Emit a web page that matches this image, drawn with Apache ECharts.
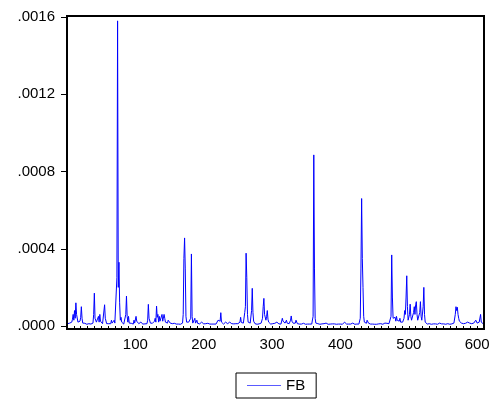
<!DOCTYPE html>
<html>
<head>
<meta charset="utf-8">
<script src="https://cdn.jsdelivr.net/npm/echarts@6/dist/echarts.min.js"></script>
<style>
  html, body { margin: 0; padding: 0; background: #fff; }
  #chart { width: 496px; height: 406px; }
</style>
</head>
<body>
<div id="chart"></div>
<script>
// Series FB, observations 1..610, values in millionths (x 1e-6)
const seriesName = 'FB';
const fbMicro = [
  12, 18, 22, 15, 10, 12, 20, 35, 60, 30,
  80, 40, 120, 60, 50, 20, 30, 15, 25, 45,
  100, 40, 15, 12, 22, 14, 10, 12, 9, 11,
  10, 12, 9, 11, 10, 8, 12, 15, 60, 170,
  40, 30, 20, 15, 25, 50, 20, 60, 25, 30,
  15, 12, 18, 20, 110, 40, 30, 12, 10, 14,
  12, 15, 20, 12, 30, 15, 12, 10, 30, 15,
  12, 20, 250, 1580, 200, 330, 120, 30, 45, 20,
  15, 12, 10, 14, 20, 60, 155, 50, 20, 50,
  15, 12, 10, 14, 20, 12, 10, 30, 15, 20,
  50, 25, 15, 30, 12, 10, 12, 20, 14, 11,
  10, 12, 9, 11, 13, 10, 12, 30, 112, 40,
  30, 15, 12, 20, 14, 12, 18, 25, 40, 20,
  103, 45, 60, 20, 50, 25, 20, 15, 60, 25,
  15, 60, 40, 20, 15, 12, 15, 30, 20, 30,
  15, 12, 10, 12, 9, 11, 14, 20, 12, 10,
  9, 11, 10, 12, 10, 9, 11, 13, 15, 60,
  350, 456, 300, 50, 20, 15, 12, 20, 14, 12,
  40, 373, 50, 15, 12, 20, 40, 15, 12, 30,
  14, 12, 10, 11, 9, 12, 20, 12, 10, 11,
  9, 10, 12, 11, 10, 14, 12, 9, 10, 11,
  12, 10, 9, 11, 10, 12, 9, 10, 13, 15,
  30, 20, 40, 25, 69, 20, 30, 12, 10, 12,
  11, 20, 15, 10, 12, 9, 11, 20, 14, 25,
  12, 10, 9, 11, 15, 10, 12, 14, 20, 12,
  10, 15, 20, 45, 18, 20, 12, 15, 25, 70,
  100, 377, 250, 60, 20, 15, 30, 15, 20, 80,
  195, 70, 25, 20, 12, 10, 11, 9, 12, 10,
  11, 10, 12, 15, 20, 40, 100, 143, 60, 60,
  30, 50, 80, 35, 20, 15, 12, 10, 14, 20,
  12, 10, 11, 14, 15, 12, 20, 14, 10, 11,
  9, 12, 10, 20, 40, 25, 15, 30, 15, 20,
  30, 15, 12, 18, 12, 15, 30, 52, 25, 20,
  14, 12, 10, 15, 30, 20, 12, 20, 12, 10,
  11, 9, 10, 12, 10, 14, 15, 11, 9, 10,
  12, 10, 9, 11, 10, 12, 9, 10, 15, 50,
  886, 300, 40, 15, 20, 25, 12, 10, 11, 9,
  10, 12, 11, 9, 10, 12, 14, 20, 15, 11,
  10, 9, 11, 12, 10, 18, 14, 11, 10, 9,
  11, 10, 12, 9, 15, 11, 10, 12, 9, 10,
  11, 10, 9, 12, 15, 20, 14, 11, 10, 12,
  9, 10, 14, 11, 10, 12, 20, 15, 11, 10,
  9, 11, 12, 10, 9, 11, 10, 12, 40, 300,
  660, 350, 200, 50, 20, 15, 12, 14, 30, 20,
  15, 20, 12, 10, 11, 9, 10, 12, 11, 9,
  10, 11, 9, 12, 10, 11, 9, 10, 12, 11,
  10, 9, 11, 12, 15, 18, 20, 14, 11, 10,
  12, 15, 20, 50, 368, 150, 40, 50, 30, 45,
  25, 50, 30, 30, 20, 25, 40, 20, 15, 25,
  20, 15, 40, 80, 60, 150, 260, 100, 30, 35,
  60, 113, 50, 30, 40, 25, 70, 100, 60, 110,
  126, 60, 30, 25, 40, 70, 126, 50, 30, 40,
  100, 200, 60, 20, 15, 12, 10, 11, 9, 12,
  10, 11, 9, 10, 12, 11, 9, 10, 11, 12,
  10, 9, 11, 12, 15, 20, 14, 11, 10, 9,
  11, 10, 12, 9, 11, 15, 12, 10, 11, 9,
  10, 12, 11, 10, 12, 15, 25, 60, 100, 80,
  97, 60, 40, 25, 30, 20, 15, 20, 14, 12,
  10, 12, 14, 11, 15, 20, 12, 14, 15, 11,
  10, 12, 14, 11, 15, 20, 18, 30, 20, 15,
  12, 14, 20, 30, 60, 20, 12, 10, 11, 12
];
const yTickValues = [0, 400, 800, 1200, 1600];
const yTickLabels = ['.0000', '.0004', '.0008', '.0012', '.0016'];
const xTickValues = [100, 200, 300, 400, 500, 600];
const xTickLabels = ['100', '200', '300', '400', '500', '600'];

const chart = echarts.init(document.getElementById('chart'), null, { renderer: 'canvas' });
const FONT = '"Liberation Sans", Arial, Helvetica, sans-serif';

const gridL = 67, gridT = 17, gridW = 417, gridH = 309;

chart.setOption({
  animation: false,
  backgroundColor: '#fff',
  grid: { left: gridL, top: gridT, width: gridW, height: gridH, containLabel: false },
  xAxis: {
    type: 'value',
    min: 0, max: 610, interval: 10,
    offset: 3,
    axisLine: { show: false },
    axisTick: { show: true, length: 4, lineStyle: { color: '#000', width: 1 } },
    splitLine: { show: false },
    axisLabel: {
      margin: 8,
      color: '#000', fontSize: 15, fontFamily: FONT,
      showMinLabel: true, showMaxLabel: true,
      formatter: function (v) {
        const k = xTickValues.indexOf(Math.round(v));
        return k >= 0 ? xTickLabels[k] : '';
      }
    }
  },
  yAxis: {
    type: 'value',
    min: 0, max: 1600, interval: 400,
    axisLine: { show: false },
    axisTick: { show: true, length: 6, inside: false, lineStyle: { color: '#000', width: 1 } },
    splitLine: { show: false },
    axisLabel: {
      margin: 12,
      color: '#000', fontSize: 15, fontFamily: FONT,
      formatter: function (v) {
        const k = yTickValues.indexOf(Math.round(v));
        return k >= 0 ? yTickLabels[k] : '';
      }
    }
  },
  legend: {
    show: true,
    left: 236,
    top: 373,
    data: [seriesName],
    icon: 'path://M0,0 L34,0 L34,1 L0,1 Z',
    itemWidth: 34, itemHeight: 1,
    padding: [5, 11],
    borderColor: '#000', borderWidth: 1,
    textStyle: { color: '#000', fontSize: 15, fontFamily: FONT }
  },
  series: [{
    name: seriesName,
    type: 'line',
    showSymbol: false,
    symbol: 'none',
    data: fbMicro.map(function (v, k) { return [k + 1, v]; }),
    lineStyle: { color: '#0000ff', width: 1 },
    itemStyle: { color: '#5a5aff' },
    emphasis: { disabled: true }
  }],
  graphic: [{
    type: 'rect',
    shape: { x: gridL, y: 16, width: gridW, height: 313 },
    style: { fill: 'none', stroke: '#000', lineWidth: 2 },
    z: 100,
    silent: true
  }]
});
</script>
</body>
</html>
